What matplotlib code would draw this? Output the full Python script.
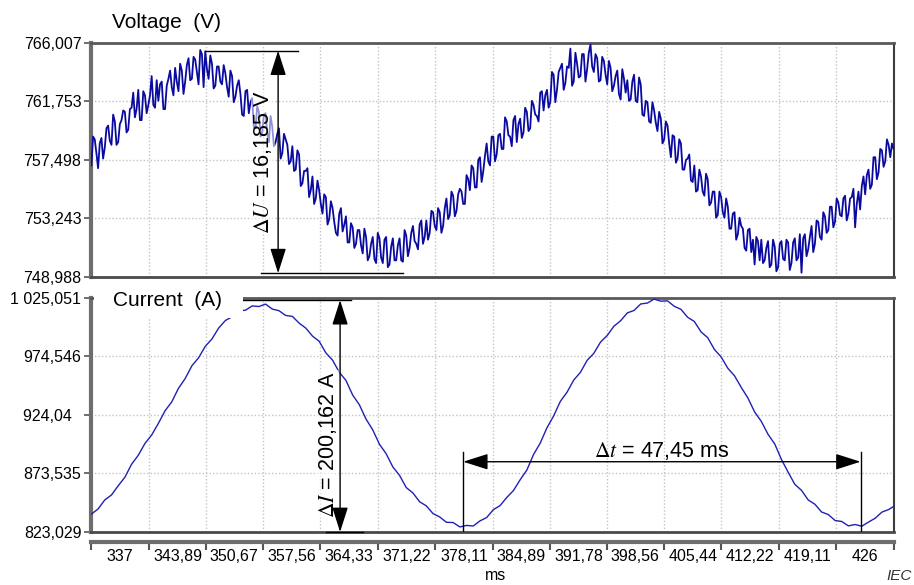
import numpy as np
import matplotlib
matplotlib.use("Agg")
import matplotlib.pyplot as plt
from matplotlib.patches import Rectangle

plt.rcParams['font.family'] = ['Liberation Sans', 'DejaVu Sans']
plt.rcParams['mathtext.fontset'] = 'stix'

# ---- axis labels -------------------------------------------------------
time_labels = [337, 343.89, 350.67, 357.56, 364.33, 371.22, 378.11, 384.89,
               391.78, 398.56, 405.44, 412.22, 419.11, 426]
time_label_text = ["337", "343,89", "350,67", "357,56", "364,33", "371,22",
                   "378,11", "384,89", "391,78", "398,56", "405,44", "412,22",
                   "419,11", "426"]

voltage_ticks = [748.988, 753.243, 757.498, 761.753, 766.007]
voltage_tick_text = ["748,988", "753,243", "757,498", "761,753", "766,007"]
current_ticks = [823.029, 873.535, 924.04, 974.546, 1025.051]
current_tick_text = ["823,029", "873,535", "924,04  ", "974,546", "1 025,051"]

# ---- recorded traces ---------------------------------------------------
voltage_t0, voltage_dt = 333.6, 0.2   # ms
voltage = [
    757.1, 759.2, 759.0, 758.0, 756.9, 758.7, 759.1, 757.6, 758.4, 759.8,
    760.0, 758.9, 758.6, 760.8, 760.3, 758.6, 758.8, 760.1, 760.4, 761.1,
    761.0, 759.5, 759.7, 761.2, 761.3, 762.4, 760.6, 761.2, 762.6, 760.4,
    760.4, 762.5, 762.2, 760.9, 761.5, 762.2, 763.6, 761.5, 761.3, 763.3,
    761.8, 763.0, 763.2, 761.2, 761.2, 762.9, 763.4, 764.0, 762.8, 762.2,
    764.2, 763.2, 762.5, 764.5, 764.0, 762.3, 763.2, 764.4, 764.9, 763.3,
    763.4, 765.0, 764.8, 763.9, 763.0, 765.5, 765.2, 762.8, 765.4, 764.1,
    763.4, 765.1, 764.5, 762.7, 762.9, 764.3, 764.3, 763.2, 763.0, 764.4,
    763.8, 762.8, 762.1, 764.0, 763.6, 761.7, 762.1, 762.9, 763.3, 762.3,
    760.8, 760.7, 762.5, 762.6, 760.9, 761.7, 762.0, 759.9, 759.8, 761.4,
    761.0, 759.2, 759.5, 760.8, 760.9, 759.5, 758.8, 760.7, 759.9, 758.5,
    758.8, 759.4, 759.8, 757.6, 758.0, 759.4, 759.0, 758.6, 757.2, 757.4,
    758.5, 756.7, 756.8, 758.2, 757.9, 755.6, 755.8, 756.7, 756.7, 756.9,
    754.8, 755.3, 756.3, 754.3, 754.7, 756.0, 755.3, 754.3, 753.6, 755.0,
    754.8, 752.8, 753.2, 754.5, 754.0, 753.0, 752.2, 752.0, 753.6, 754.0,
    752.3, 752.8, 753.4, 751.5, 751.5, 752.9, 752.6, 751.1, 751.4, 752.4,
    752.4, 751.3, 750.7, 752.5, 751.9, 750.2, 750.5, 751.4, 751.9, 750.3,
    750.0, 752.2, 751.8, 750.4, 750.0, 751.7, 751.9, 749.7, 749.9, 751.2,
    751.8, 750.2, 750.2, 751.3, 751.8, 750.2, 750.1, 752.4, 752.0, 750.5,
    751.1, 752.2, 752.7, 751.6, 751.4, 751.0, 752.8, 753.1, 751.4, 751.9,
    753.1, 751.7, 752.2, 753.8, 753.7, 752.7, 752.4, 754.0, 753.7, 752.2,
    752.7, 754.0, 754.7, 753.2, 753.5, 755.2, 754.9, 753.4, 753.8, 755.0,
    755.4, 755.2, 754.3, 754.3, 756.4, 756.1, 755.3, 757.1, 756.9, 755.5,
    755.5, 757.5, 757.7, 755.9, 756.7, 757.8, 758.7, 757.4, 757.1, 759.2,
    759.2, 757.4, 757.9, 759.3, 759.4, 758.3, 758.3, 760.6, 760.3, 759.3,
    759.2, 758.5, 760.4, 760.7, 758.8, 760.1, 760.5, 759.1, 759.5, 761.3,
    761.0, 759.6, 759.8, 761.8, 761.5, 760.8, 760.7, 760.3, 762.4, 762.5,
    761.1, 762.2, 762.6, 761.3, 761.7, 763.9, 763.7, 761.7, 762.6, 763.9,
    764.2, 764.5, 762.6, 763.1, 764.3, 764.2, 765.6, 762.9, 763.2, 765.3,
    764.5, 763.5, 763.6, 765.2, 765.2, 763.2, 764.1, 765.3, 765.9, 764.3,
    763.9, 765.2, 764.9, 763.2, 763.3, 765.0, 764.7, 763.7, 763.0, 764.7,
    764.2, 762.5, 762.9, 763.6, 764.0, 762.3, 761.9, 764.1, 763.4, 762.4,
    763.3, 761.8, 761.9, 763.2, 763.7, 761.8, 761.7, 763.5, 763.0, 760.8,
    760.7, 761.8, 761.7, 760.3, 760.2, 761.7, 761.1, 760.2, 759.6, 761.0,
    760.5, 758.7, 759.0, 760.3, 760.0, 758.7, 757.7, 759.3, 759.2, 757.3,
    757.6, 759.0, 758.7, 756.8, 756.8, 757.5, 757.6, 757.9, 756.0, 755.9,
    757.1, 755.2, 755.3, 756.8, 756.3, 755.2, 754.9, 756.5, 756.1, 754.2,
    754.4, 755.2, 755.2, 753.3, 753.5, 755.2, 754.8, 753.7, 753.3, 754.7,
    754.1, 752.5, 752.5, 753.6, 753.7, 751.7, 752.1, 753.3, 752.7, 752.5,
    751.1, 750.9, 752.4, 752.5, 750.8, 751.7, 749.9, 751.9, 751.6, 750.2,
    751.7, 750.0, 750.2, 751.1, 751.6, 749.7, 749.9, 751.7, 751.2, 749.4,
    749.7, 751.4, 751.6, 750.3, 750.2, 751.7, 751.5, 749.5, 750.0, 751.5,
    751.8, 750.2, 750.4, 752.1, 749.3, 751.8, 752.1, 750.5, 751.0, 751.9,
    752.7, 750.8, 751.4, 753.1, 753.0, 751.9, 751.7, 753.7, 753.4, 752.2,
    752.4, 754.1, 754.1, 752.6, 753.0, 754.7, 754.4, 753.5, 753.4, 754.7,
    754.9, 753.1, 753.6, 754.7, 754.8, 755.4, 752.6, 754.3, 755.2, 753.9,
    755.6, 756.3, 755.0, 756.4, 756.8, 755.4, 755.7, 757.7, 757.7, 756.1,
    756.6, 758.3, 758.2, 757.0, 757.4, 759.0, 758.6, 757.7, 758.7, 758.3,
]

current_t0, current_dt = 333.6, 0.8   # ms
current = [
    838.5, 842.9, 850.7, 855.0, 862.9, 870.3, 881.5, 889.3, 899.5, 906.8,
    916.8, 927.7, 935.4, 947.1, 955.5, 966.5, 973.4, 983.3, 989.7, 999.1,
    1005.6, 1008.8, 1014.1, 1014.5, 1018.2, 1017.7, 1019.8, 1015.5, 1014.1, 1010.0,
    1009.2, 1003.4, 999.1, 992.2, 987.7, 977.7, 971.4, 961.0, 953.9, 941.3,
    932.9, 920.5, 911.2, 898.8, 890.6, 879.2, 871.9, 861.4, 856.7, 849.1,
    845.6, 838.9, 836.0, 831.4, 831.2, 827.4, 828.7, 828.2, 832.6, 835.5,
    842.3, 845.8, 852.8, 858.8, 868.1, 876.5, 889.9, 899.8, 913.0, 923.2,
    935.8, 943.7, 954.2, 960.9, 971.2, 977.3, 987.0, 992.7, 1000.7, 1005.4,
    1012.2, 1014.3, 1019.9, 1020.7, 1024.1, 1022.3, 1022.6, 1017.9, 1015.3, 1008.4,
    1004.8, 995.8, 990.8, 980.6, 974.2, 964.4, 957.9, 947.9, 938.7, 926.7,
    918.5, 907.4, 899.1, 885.7, 874.7, 864.2, 859.0, 850.7, 847.0, 840.3,
    838.1, 833.0, 832.1, 828.3, 829.5, 828.0, 831.6, 834.9, 840.2, 842.4,
    846.0,
]

# ---- measured quantities ----------------------------------------------
delta_u = 16.185      # V
u_peak = 765.45
delta_i = 200.162     # A
i_peak = 1023.2
delta_t = 47.45       # ms
t_start = 378.0


def comma(v, nd):
    return f"{v:.{nd}f}".replace(".", ",")


t_v = voltage_t0 + voltage_dt * np.arange(len(voltage))
t_i = current_t0 + current_dt * np.arange(len(current))

lab = np.array(time_labels, dtype=float)
edges = np.concatenate([[lab[0] - (lab[1] - lab[0]) / 2],
                        (lab[:-1] + lab[1:]) / 2,
                        [lab[-1] + (lab[-1] - lab[-2]) / 2]])

W, H = 914, 585
fig = plt.figure(figsize=(W / 100, H / 100), dpi=100)


def px_box(l, t, r, b):
    return [l / W, 1 - b / H, (r - l) / W, (b - t) / H]


ax_u = fig.add_axes(px_box(91, 43, 894, 277))
ax_i = fig.add_axes(px_box(91, 298, 894, 532))

for ax in (ax_u, ax_i):
    ax.set_xlim(edges[0], edges[-1])
    ax.set_xticks(edges)
    ax.grid(True, which='major', color='#c4c4c4', linestyle=(0, (1, 1.5)),
            linewidth=1.0)
    ax.spines['left'].set(color='#6e6e6e', linewidth=3)
    ax.spines['top'].set(color='#5a5a5a', linewidth=2)
    ax.spines['right'].set(color='#3c3c3c', linewidth=1.5)
    ax.spines['bottom'].set(color='#4a4a4a', linewidth=2)
    ax.tick_params(axis='y', direction='out', length=5, width=1.2,
                   color='#555555', labelsize=11.5, pad=2)

# voltage panel
ax_u.plot(t_v, voltage, color='#0a0aa0', linewidth=1.3, zorder=3)
ax_u.set_ylim(voltage_ticks[0], voltage_ticks[-1])
ax_u.set_yticks(voltage_ticks)
ax_u.set_yticklabels(voltage_tick_text)
ax_u.tick_params(axis='x', length=0, labelbottom=False)

# current panel
ax_i.plot(t_i, current, color='#2020b4', linewidth=1.0, zorder=3)
ax_i.set_ylim(current_ticks[0], current_ticks[-1])
ax_i.set_yticks(current_ticks)
ax_i.set_yticklabels(current_tick_text)
ax_i.spines['bottom'].set_position(('outward', 7))
ax_i.spines['bottom'].set(color='#6e6e6e', linewidth=3)
ax_i.axhline(current_ticks[0], color='#4a4a4a', linewidth=2, clip_on=False,
             zorder=4)
ax_i.set_xticklabels([])
ax_i.set_xticks(time_labels, minor=True)
ax_i.set_xticklabels(time_label_text, minor=True)
ax_i.tick_params(axis='x', which='major', direction='out', length=6,
                 width=1.5, color='#555555')
ax_i.tick_params(axis='x', which='minor', length=0, labelsize=11.5, pad=5)

# titles
fig.text(112 / W, 1 - 28.5 / H, 'Voltage  (V)', fontsize=15, ha='left',
         va='baseline')
fig.add_artist(Rectangle((93.5 / W, 1 - 318 / H), (243 - 93.5) / W, 38 / H,
                         transform=fig.transFigure, facecolor='white',
                         edgecolor='none', zorder=5))
fig.text(113 / W, 1 - 306 / H, 'Current  (A)', fontsize=15, ha='left',
         va='baseline', zorder=6)

arrow = dict(arrowstyle='<|-|>,head_length=1.1,head_width=0.35',
             color='black', linewidth=1.0, shrinkA=0, shrinkB=0,
             mutation_scale=14)
veil = dict(facecolor='white', alpha=0.55, edgecolor='none', pad=0.5)

# voltage swing
u_low = u_peak - delta_u
ax_u.plot([347.2, 358.3], [u_peak, u_peak], color='black', lw=1,
          clip_on=False, zorder=7)
ax_u.plot([353.9, 370.8], [u_low, u_low], color='black', lw=1,
          clip_on=False, zorder=7)
ax_u.annotate('', xy=(355.9, u_low), xytext=(355.9, u_peak),
              arrowprops=arrow, zorder=7, annotation_clip=False)
ax_u.text(354.1, u_peak - delta_u / 2, r'$\Delta U$ = ' + comma(delta_u, 3) + ' V',
          rotation=90, ha='center', va='center', fontsize=15.5, zorder=6,
          bbox=veil)

# current swing
i_low = i_peak - delta_i
ax_i.plot([351.7, 364.6], [i_peak, i_peak], color='black', lw=1,
          clip_on=False, zorder=7)
ax_i.plot([361.6, 366.0], [i_low, i_low], color='black', lw=1,
          clip_on=False, zorder=7)
ax_i.annotate('', xy=(363.3, i_low), xytext=(363.3, i_peak),
              arrowprops=arrow, zorder=7, annotation_clip=False)
ax_i.text(361.85, 899.0, r'$\Delta I$ = ' + comma(delta_i, 3) + ' A',
          rotation=90, ha='center', va='center', fontsize=15.5, zorder=6,
          bbox=veil)

# period
t_end = t_start + delta_t
for tx in (t_start, t_end):
    ax_i.plot([tx, tx], [current_ticks[0], 892.1], color='black', lw=1,
              zorder=7)
ax_i.annotate('', xy=(t_end, 883.7), xytext=(t_start, 883.7),
              arrowprops=arrow, zorder=7)
ax_i.text((t_start + t_end) / 2, 887.5, r'$\Delta t$ = ' + comma(delta_t, 2) + ' ms',
          ha='center', va='baseline', fontsize=15.5, zorder=6)

fig.text(496 / W, 1 - 575 / H, 'ms', ha='center', va='center', fontsize=11.5)
fig.text(886 / W, 1 - 576 / H, 'IEC', ha='left', va='center', fontsize=11,
         style='italic', color='#333333')

fig.savefig('out.png', dpi=100)
